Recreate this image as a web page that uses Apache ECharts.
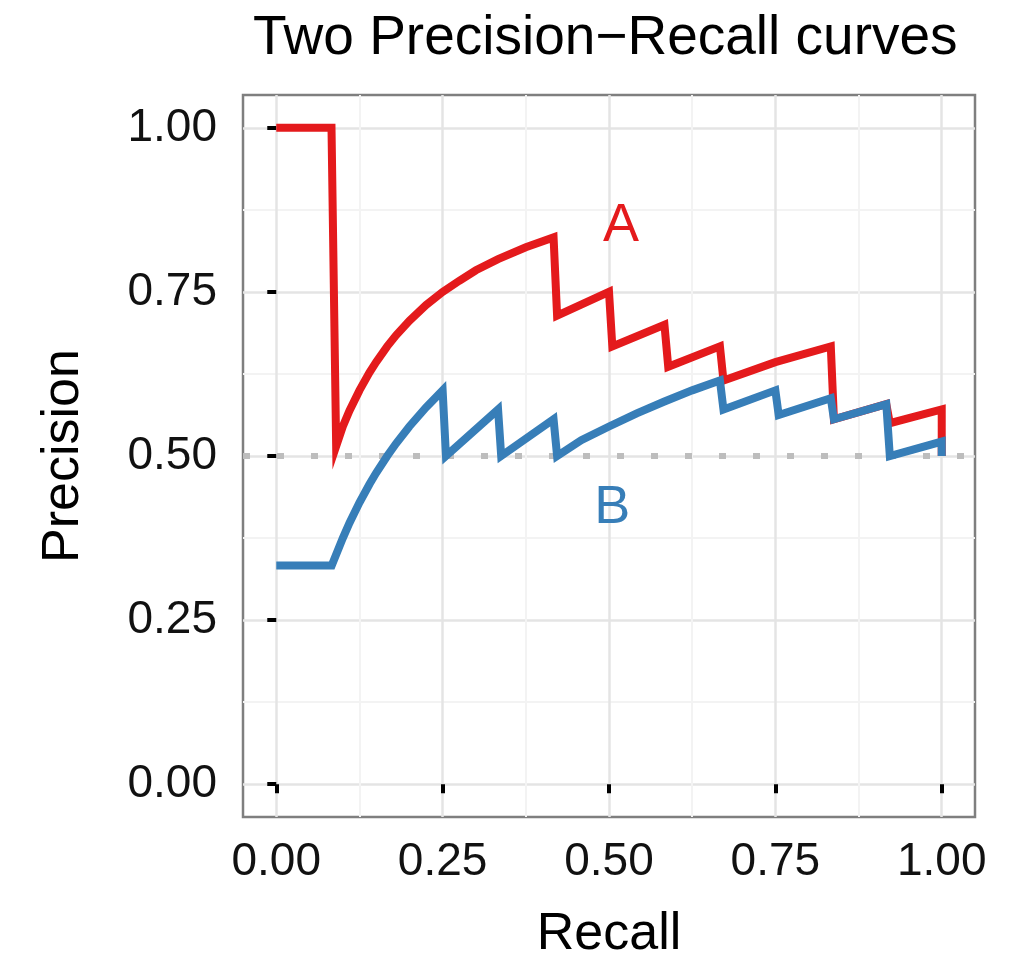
<!DOCTYPE html>
<html>
<head>
<meta charset="utf-8">
<title>Two Precision-Recall curves</title>
<script src="https://cdn.jsdelivr.net/npm/echarts@6/dist/echarts.min.js"></script>
<style>
  html, body { margin: 0; padding: 0; background: #ffffff; }
  #chart { width: 1021px; height: 957px; }
</style>
</head>
<body>
<div id="chart"></div>
<script>
// curve A (red)
var recallA = [0, 0.083, 0.09, 0.1, 0.11, 0.125, 0.14, 0.15, 0.1667, 0.18, 0.2, 0.225, 0.25, 0.275, 0.3, 0.3333, 0.375, 0.4167,
    0.422, 0.5, 0.505, 0.5833, 0.589, 0.6667, 0.672, 0.75, 0.8333, 0.838, 0.9167, 0.922, 1.0, 1.0];
var precisionA = [1.0, 1.0, 0.515, 0.545, 0.569, 0.6, 0.627, 0.643, 0.667, 0.684, 0.706, 0.73, 0.75, 0.767, 0.783, 0.8, 0.818, 0.833,
    0.714, 0.75, 0.667, 0.7, 0.636, 0.667, 0.615, 0.643, 0.667, 0.556, 0.579, 0.55, 0.571, 0.5];

// curve B (blue)
var recallB = [0, 0.0833, 0.1, 0.11, 0.125, 0.14, 0.15, 0.1667, 0.18, 0.2, 0.225, 0.25, 0.255, 0.3333, 0.338, 0.4167, 0.422,
    0.4583, 0.5, 0.5417, 0.5833, 0.625, 0.6667, 0.672, 0.75, 0.755, 0.8333, 0.838, 0.9167, 0.922, 1.0, 1.0];
var precisionB = [0.333, 0.333, 0.375, 0.398, 0.429, 0.457, 0.474, 0.5, 0.519, 0.545, 0.574, 0.6, 0.5, 0.571, 0.5, 0.556, 0.5,
    0.524, 0.545, 0.565, 0.583, 0.6, 0.615, 0.571, 0.6, 0.5625, 0.588, 0.556, 0.579, 0.5, 0.522, 0.5];

var baseline = 0.5;
var majorTicks = [0, 0.25, 0.5, 0.75, 1.0];
var minorTicks = [0.125, 0.375, 0.625, 0.875];
var labelA = [0.518, 0.85];
var labelB = [0.505, 0.42];

var RED = '#E41A1C';
var BLUE = '#377EB8';
var FONT = '"Liberation Sans", Arial, sans-serif';

function pairs(xs, ys) {
    var out = [];
    for (var i = 0; i < xs.length; i++) out.push([xs[i], ys[i]]);
    return out;
}

function mainAxis(name, isX) {
    return {
        type: 'value',
        min: -0.05,
        max: 1.05,
        name: name,
        nameLocation: 'middle',
        nameGap: isX ? 92 : 153,
        nameTextStyle: { fontFamily: FONT, fontSize: 52, color: '#000' },
        axisLine: { show: false },
        axisTick: {
            show: true, length: 9, customValues: majorTicks,
            lineStyle: { color: '#000', width: 4 }
        },
        axisLabel: {
            customValues: majorTicks,
            margin: isX ? 22 : 26,
            fontFamily: FONT, fontSize: 46, color: '#111',
            formatter: function (v) { return v.toFixed(2); }
        },
        splitLine: { show: true, lineStyle: { color: '#e4e4e4', width: 2.5 } }
    };
}

function minorAxis() {
    return {
        type: 'value',
        min: -0.05,
        max: 1.05,
        axisLine: { show: false },
        axisTick: { show: false, customValues: minorTicks },
        axisLabel: { show: false },
        splitLine: { show: true, lineStyle: { color: '#f3f3f3', width: 2 } }
    };
}

var chart = echarts.init(document.getElementById('chart'), null, { renderer: 'canvas' });

chart.setOption({
    animation: false,
    backgroundColor: '#ffffff',
    title: {
        text: 'Two Precision\u2212Recall curves',
        left: 248,
        top: 6,
        textStyle: { fontFamily: FONT, fontSize: 55, fontWeight: 'normal', color: '#000' }
    },
    grid: {
        left: 243, right: 46, top: 95, bottom: 140,
        show: true,
        backgroundColor: '#ffffff',
        borderColor: '#7f7f7f',
        borderWidth: 2.5,
        outerBoundsMode: 'none'
    },
    xAxis: [mainAxis('Recall', true), minorAxis()],
    yAxis: [mainAxis('Precision', false), minorAxis()],
    series: [
        {
            type: 'line',
            data: [[-0.05, baseline], [1.05, baseline]],
            symbol: 'none',
            silent: true,
            lineStyle: { color: '#bdbdbd', width: 6, type: [7, 27] }
        },
        {
            name: 'A',
            type: 'line',
            data: pairs(recallA, precisionA),
            symbol: 'none',
            lineStyle: { color: RED, width: 8, join: 'miter', cap: 'butt' }
        },
        {
            name: 'B',
            type: 'line',
            data: pairs(recallB, precisionB),
            symbol: 'none',
            lineStyle: { color: BLUE, width: 8, join: 'miter', cap: 'butt' }
        },
        {
            type: 'scatter',
            data: [labelA],
            symbolSize: 0,
            itemStyle: { opacity: 1 },
            label: { show: true, position: 'inside', formatter: 'A', fontFamily: FONT, fontSize: 54, color: RED, opacity: 1 }
        },
        {
            type: 'scatter',
            data: [labelB],
            symbolSize: 0,
            itemStyle: { opacity: 1 },
            label: { show: true, position: 'inside', formatter: 'B', fontFamily: FONT, fontSize: 54, color: BLUE, opacity: 1 }
        }
    ]
});
</script>
</body>
</html>
